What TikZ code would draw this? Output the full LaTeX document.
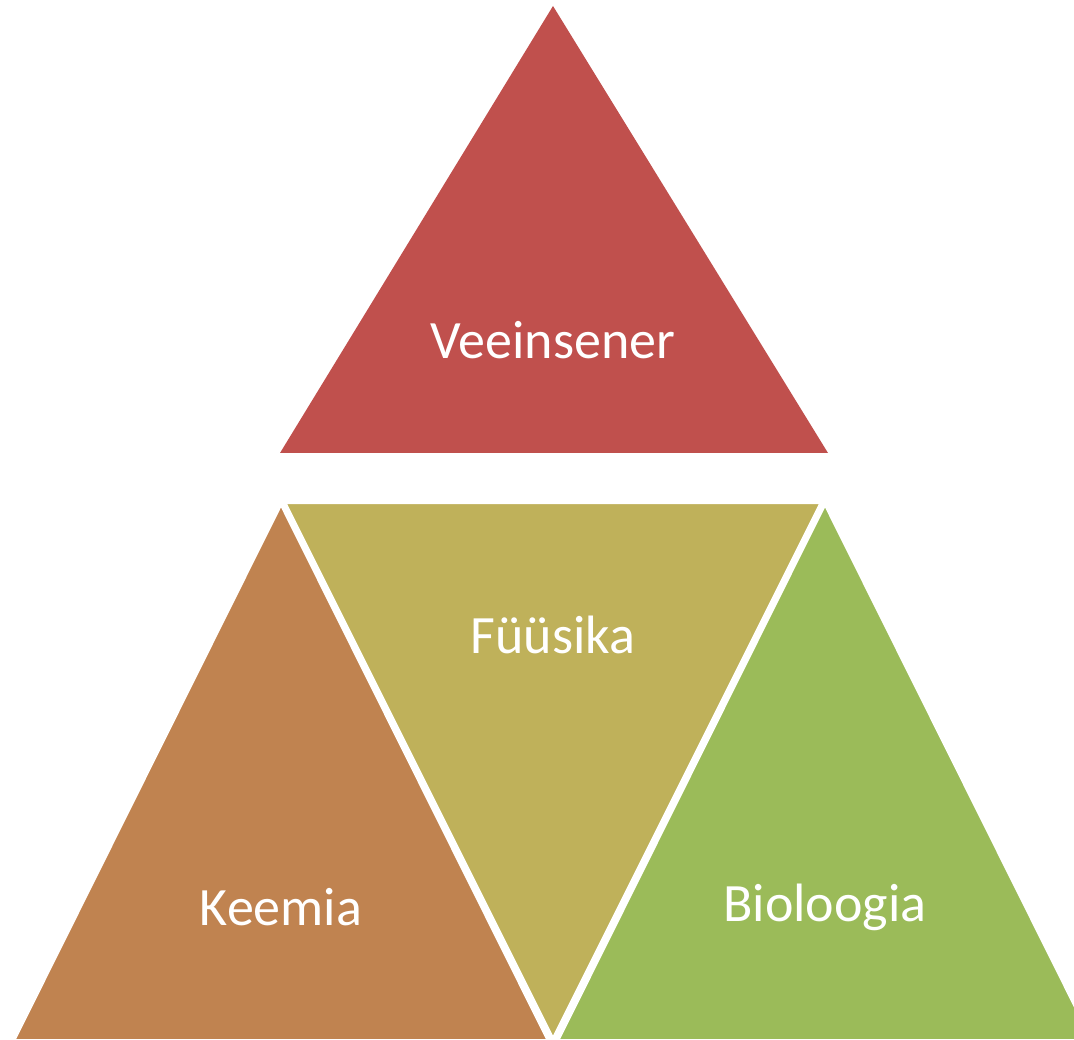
\documentclass[tikz,border=0pt]{standalone}
\usepackage{fontspec}
\setmainfont{Carlito}
\definecolor{cred}{HTML}{C0504D}
\definecolor{cbrown}{HTML}{C08350}
\definecolor{colive}{HTML}{BFB15A}
\definecolor{cgreen}{HTML}{9BBB59}
\begin{document}
\begin{tikzpicture}[x=1pt,y=-1pt,
  tri/.style={draw=white,line width=4pt,line join=miter},
  lbl/.style={text=white,font=\fontsize{54}{60}\selectfont,inner sep=0pt}]
\useasboundingbox (0,0) rectangle (1074,1040);
\clip (0,0) rectangle (1074,1040);
\fill[cred] (553,6) -- (828,453) -- (280,453) -- cycle;
\filldraw[tri,fill=cbrown] (281,503) -- (549,1041) -- (13,1041) -- cycle;
\filldraw[tri,fill=cgreen] (825,503) -- (1093,1041) -- (557,1041) -- cycle;
\filldraw[tri,fill=colive] (284,502) -- (822,502) -- (553,1040) -- cycle;
\node[lbl] (v) at (553,340) {Veeinsener};
\node[lbl] (f) at (553,635) {Füüsika};
\node[lbl] (k) at (281,907) {Keemia};
\node[lbl] (b) at (825,907) {Bioloogia};
\end{tikzpicture}
\end{document}
